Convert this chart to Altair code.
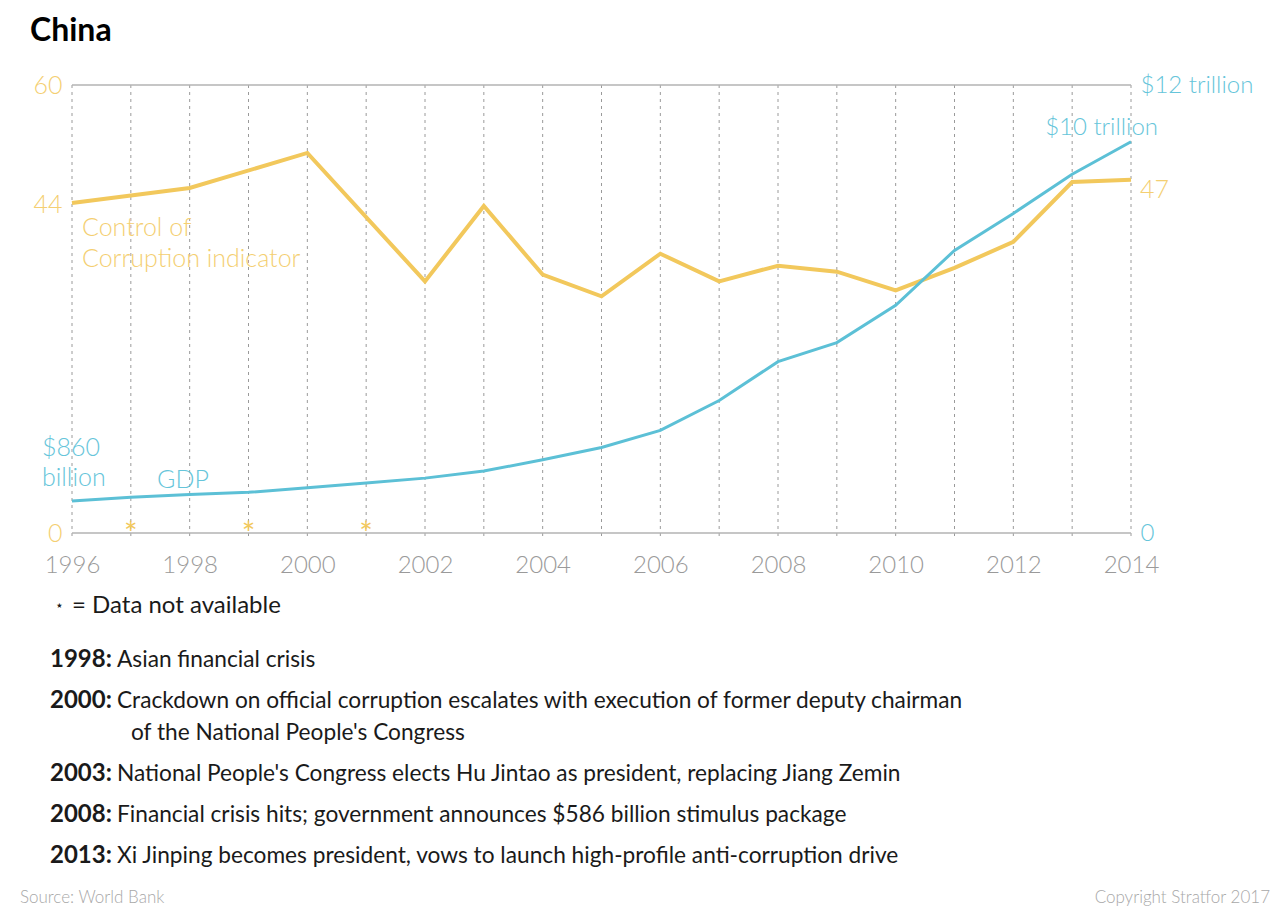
import altair as alt
import pandas as pd

# ---------------- data ----------------
corr_years = [1996, 1998, 2000, 2002, 2003, 2004, 2005, 2006, 2007, 2008, 2009, 2010, 2011, 2012, 2013, 2014]
corr_values = [44.2, 46.2, 50.9, 33.7, 43.8, 34.6, 31.7, 37.4, 33.7, 35.8, 35.0, 32.5, 35.5, 39.0, 47.0, 47.3]
missing_years = [1997, 1999, 2001]

gdp_years = list(range(1996, 2015))
gdp_trillions = [0.86, 0.96, 1.03, 1.09, 1.21, 1.34, 1.47, 1.66, 1.96, 2.29, 2.75, 3.55,
                 4.59, 5.10, 6.10, 7.57, 8.56, 9.61, 10.48]

x_tick_years = [1996, 1998, 2000, 2002, 2004, 2006, 2008, 2010, 2012, 2014]
left_ticks = [0, 44, 60]
right_ticks = [0, 12]

event_years = ["1998:", "2000:", "", "2003:", "2008:", "2013:"]
event_texts = [
    "Asian financial crisis",
    "Crackdown on official corruption escalates with execution of former deputy chairman",
    "of the National People's Congress",
    "National People's Congress elects Hu Jintao as president, replacing Jiang Zemin",
    "Financial crisis hits; government announces $586 billion stimulus package",
    "Xi Jinping becomes president, vows to launch high-profile anti-corruption drive",
]

# ---------------- style / layout ----------------
YEL = "#F2C85C"
YEL_T = "#F4CF72"
CYA = "#5CC0D6"
CYA_T = "#66C5DA"
GRAY = "#9a9a9a"
DARK = "#1a1a1a"
FONT = "Lato"
W, H = 1059, 448
# x offsets (relative to plot left) where the event description starts
event_text_x = [45, 45, 59, 45, 45, 45]
event_y = [575, 616, 648, 689, 730, 771]

xscale = alt.Scale(domain=[1996, 2014], nice=False, zero=False)
yscale_c = alt.Scale(domain=[0, 60], nice=False)
yscale_g = alt.Scale(domain=[0, 12], nice=False)

corr_df = pd.DataFrame({"year": corr_years, "value": corr_values})
gdp_df = pd.DataFrame({"year": gdp_years, "gdp": gdp_trillions})
miss_df = pd.DataFrame({"year": missing_years, "value": [0] * len(missing_years)})
grid_df = pd.DataFrame({"year": gdp_years})
one = pd.DataFrame({"k": [0]})

x_axis = alt.Axis(values=x_tick_years, format="d", domain=False, ticks=False, grid=False,
                  labelFont=FONT, labelFontSize=24, labelFontWeight=300, labelColor=GRAY,
                  labelPadding=20, labelFlush=False, title=None)

grid = alt.Chart(grid_df).mark_rule(color=GRAY, strokeWidth=1, strokeDash=[3, 4]).encode(
    x=alt.X("year:Q", scale=xscale, axis=x_axis),
    y=alt.value(0), y2=alt.value(H + 7),
)

frame_df = pd.DataFrame({"yy": [0, H]})
frame = alt.Chart(frame_df).mark_rule(color="#b3b3b3", strokeWidth=1.5).encode(
    x=alt.value(0), x2=alt.value(W), y=alt.Y("yy:Q", scale=None),
)

left_axis = alt.Axis(values=left_ticks, domain=False, ticks=False, grid=False, orient="left",
                     labelFont=FONT, labelFontSize=25, labelFontWeight=300, labelColor=YEL_T,
                     labelPadding=10, title=None)

right_axis = alt.Axis(values=right_ticks, domain=False, ticks=False, grid=False, orient="right",
                      labelExpr="datum.value == 12 ? '$12 trillion' : '0'",
                      labelFont=FONT, labelFontSize=24, labelFontWeight=300, labelColor=CYA_T,
                      labelPadding=9, title=None)

corr_line = alt.Chart(corr_df).mark_line(color=YEL, strokeWidth=4).encode(
    x=alt.X("year:Q", scale=xscale),
    y=alt.Y("value:Q", scale=yscale_c, axis=left_axis),
)

stars = alt.Chart(miss_df).mark_text(text="*", color=YEL, font=FONT, fontSize=32,
                                     baseline="alphabetic", dy=12).encode(
    x=alt.X("year:Q", scale=xscale),
    y=alt.Y("value:Q", scale=yscale_c, axis=None),
)

corr_end = alt.Chart(corr_df.tail(1)).mark_text(text="47", color=YEL_T, font=FONT, fontSize=25,
                                               fontWeight=300, align="left", baseline="middle",
                                               dx=9, dy=10).encode(
    x=alt.X("year:Q", scale=xscale),
    y=alt.Y("value:Q", scale=yscale_c, axis=None),
)

gdp_line = alt.Chart(gdp_df).mark_line(color=CYA, strokeWidth=3).encode(
    x=alt.X("year:Q", scale=xscale),
    y=alt.Y("gdp:Q", scale=yscale_g, axis=right_axis),
)

gdp_end = alt.Chart(gdp_df.tail(1)).mark_text(text="$10 trillion", color=CYA_T, font=FONT, fontSize=24,
                                             fontWeight=300, align="right", baseline="middle",
                                             dx=27, dy=-14).encode(
    x=alt.X("year:Q", scale=xscale),
    y=alt.Y("gdp:Q", scale=yscale_g, axis=None),
)


def label(text, x, y, color, size=25, weight=300, align="left", baseline="middle"):
    return alt.Chart(one).mark_text(text=text, color=color, font=FONT, fontSize=size,
                                    fontWeight=weight, align=align, baseline=baseline).encode(
        x=alt.value(x), y=alt.value(y))


annots = [
    label("China", -42, -44, "#000000", size=32, weight="bold", baseline="alphabetic"),
    label("Control of", 10, 143, YEL_T),
    label("Corruption indicator", 10, 174, YEL_T),
    label("$860", -30, 363, CYA_T),
    label("billion", -30, 393, CYA_T),
    label("GDP", 85, 395, CYA_T),
    label("⋆", -17, 521, DARK, size=14, weight=400),
    label("= Data not available", 0, 521, DARK, size=24, weight=400),
    label("Source: World Bank", -52, 813, "#a8a8a8", size=17, weight=300),
    label("Copyright Stratfor 2017", W + 139, 813, "#a8a8a8", size=17, weight=300, align="right"),
]

for yr, txt, tx, ty in zip(event_years, event_texts, event_text_x, event_y):
    if yr:
        annots.append(label(yr, -22, ty, DARK, size=24, weight="bold"))
    annots.append(label(txt, tx, ty, DARK, size=22.7, weight=400))

chart = alt.layer(
    grid, frame, corr_line, stars, corr_end, gdp_line, gdp_end, *annots
).resolve_scale(y="independent").properties(
    width=W, height=H,
    padding={"left": 72, "top": 85, "right": 1280 - 72 - W, "bottom": 919 - 85 - H},
    autosize="none",
    background="white",
).configure_view(stroke=None)

chart.save("out.html", embed_options={"renderer": "svg", "actions": False})
